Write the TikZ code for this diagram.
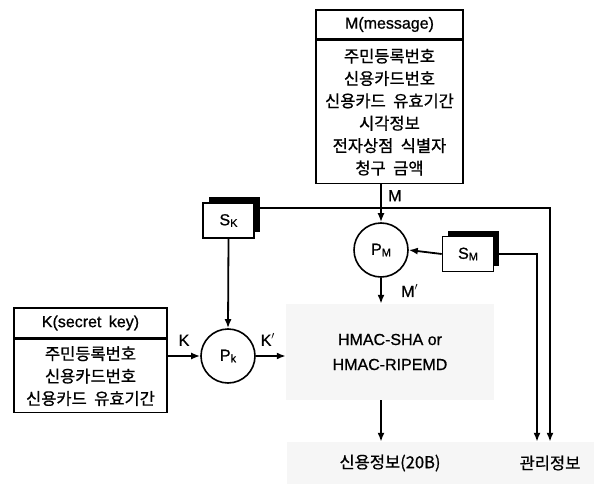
\documentclass[tikz,border=0pt]{standalone}
\usepackage{fontspec}
\setmainfont{Liberation Sans}[FakeBold=0.8]
\newfontfamily\kr{Noto Sans CJK KR}[FakeBold=0.8,WordSpace=2]
\usetikzlibrary{positioning,shadows,arrows.meta}

\tikzset{
  box/.style={draw,line width=1.6pt,inner sep=0pt,align=center,fill=white},
  hangul/.style={font=\kr\fontsize{16.5}{22.4}\selectfont},
  keybox/.style={draw,line width=1.6pt,fill=white,minimum width=51pt,minimum height=35pt,
    inner sep=0pt,drop shadow={shadow xshift=5.5pt,shadow yshift=6pt,fill=black,opacity=1}},
  proc/.style={draw,circle,line width=1.6pt,minimum size=54pt,inner sep=0pt},
  dots/.style={fill=gray!7,draw=none,inner sep=0pt,align=center},
  wire/.style={line width=1.8pt},
}
\newcommand{\low}[1]{\raisebox{-1.5pt}{\fontsize{11}{11}\selectfont #1}}

\begin{document}
\begin{tikzpicture}[x=1pt,y=-1pt,>={Latex[length=9pt,width=7pt]},font=\fontsize{16}{19}\selectfont]
    \useasboundingbox (0,0) rectangle (594,484);
    % shaded output areas
    \node[dots,minimum width=208pt,minimum height=96pt] (hmac) at (390,352)
      {HMAC-SHA or\\[6pt]HMAC-RIPEMD};
    \node[dots,hangul,minimum width=206pt,minimum height=42pt] (credit) at (390,463) {신용정보(20B)};
    \node[dots,hangul,minimum width=106pt,minimum height=42pt] (mgmt) at (545,463) {\hspace*{10pt}관리정보};
    % message block
    \node[box,minimum width=147pt,minimum height=29pt] (mhead) at (389.5,24.5) {M(message)};
    \node[box,hangul,minimum width=147pt,minimum height=143pt,below=0pt of mhead] (mbody)
      {주민등록번호\\신용카드번호\\신용카드 유효기간\\시각정보\\전자상점 식별자\\청구 금액};
    % key block
    \node[box,minimum width=153pt,minimum height=30pt] (khead) at (90.5,323) {K(secret\hspace{3pt} key)};
    \node[box,hangul,minimum width=153pt,minimum height=73pt,below=0pt of khead] (kbody)
      {주민등록번호\\신용카드번호\\신용카드 유효기간};
    % permutations and seeds
    \node[proc] (pm) at (381,250) {P\low{M}};
    \node[proc] (pk) at (228,356) {P\low{k}};
    \node[keybox] (sk) at (228.5,220.5) {S\low{K}};
    \node[keybox] (sm) at (468,254) {S\low{M}};
    % connectors
    \draw[wire,->] ([yshift=12.5pt]sk.east) -| ([xshift=5pt]mgmt.north);
    \draw[wire,->] (sm.east) -| ([xshift=-8pt]mgmt.north);
    \draw[wire,->] (mbody.south -| pm.north) -- (pm.north)
      node[pos=0.3,right=3pt] {M};
    \draw[wire,->] (sm.west) -- (pm.east);
    \draw[wire,->] (pm.south) -- (pm.south |- hmac.north)
      node[midway,right=16pt] {M$'$};
    \draw[wire,->] (sk.south) -- (pk.north);
    \draw[wire,->] (kbody.east |- pk.west) -- (pk.west)
      node[midway,above=6pt] {K};
    \draw[wire,->] (pk.east) -- (hmac.west |- pk.east)
      node[pos=0.4,above=6pt] {K$'$};
    \draw[wire,->] (hmac.south -| pm.south) -- (credit.north -| pm.south);
  \end{tikzpicture}
\end{document}
